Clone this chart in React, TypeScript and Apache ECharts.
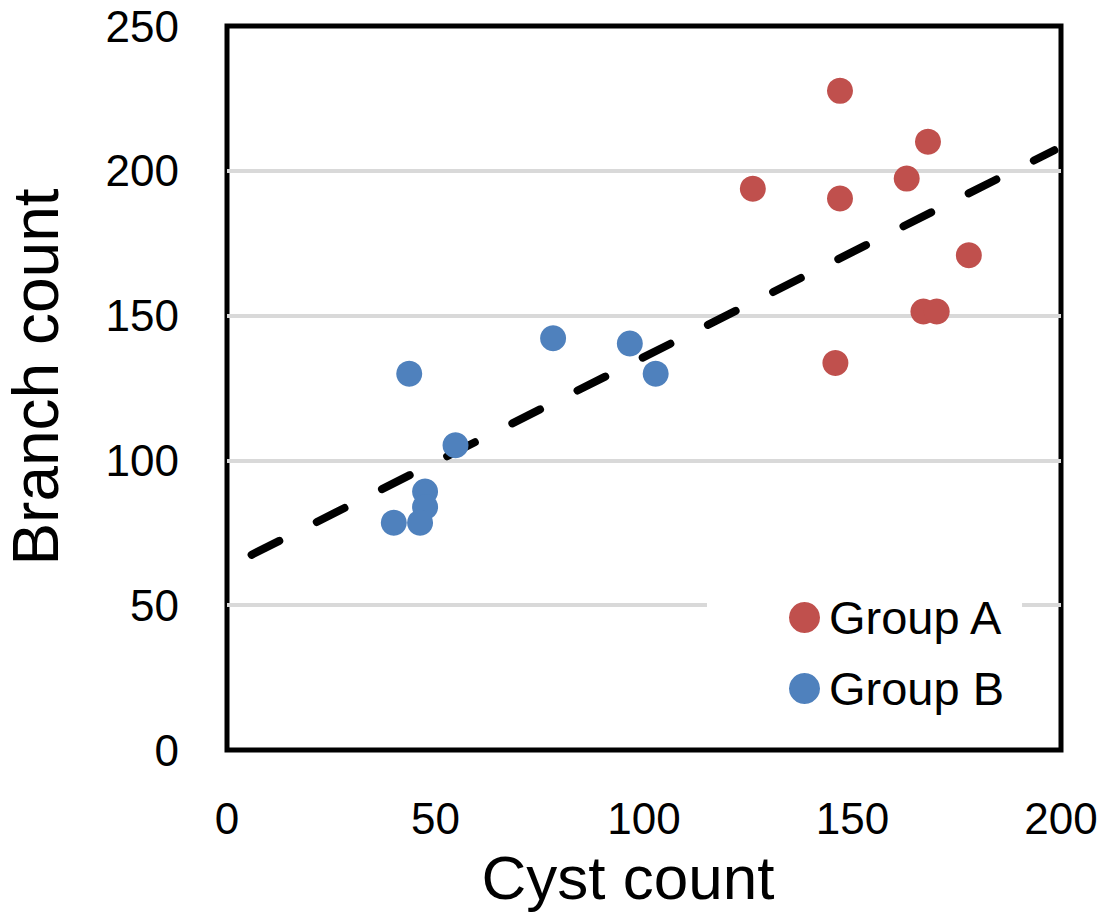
import React, { useEffect, useRef } from "react";
import * as echarts from "echarts";

const groupANames = "Group A";
const groupBNames = "Group B";

const groupAX = [147.0, 168.1, 126.1, 163.0, 147.0, 177.9, 167.0, 170.2, 145.9];
const groupAY = [227.6, 210.0, 193.8, 197.3, 190.4, 170.8, 151.4, 151.4, 133.6];

const groupBX = [43.7, 78.2, 96.6, 102.8, 54.8, 47.5, 47.5, 40.0, 46.3];
const groupBY = [129.9, 142.2, 140.4, 129.9, 105.2, 89.3, 83.9, 78.5, 78.5];

const trendX = [5.9, 198.4];
const trendY = [67.4, 207.1];

const xTicks = { min: 0, max: 200, interval: 50 };
const yTicks = { min: 0, max: 250, interval: 50 };

const FONT = "'Liberation Sans', Arial, sans-serif";

export default function App() {
  const ref = useRef<HTMLDivElement>(null);

  useEffect(() => {
    if (!ref.current) return;
    const chart = echarts.init(ref.current, undefined, { renderer: "svg" });
    const zip = (xs: number[], ys: number[]) => xs.map((x, i) => [x, ys[i]]);
    chart.setOption({
      animation: false,
      backgroundColor: "#ffffff",
      textStyle: { fontFamily: FONT },
      grid: {
        left: 227,
        top: 26,
        width: 834,
        height: 724,
        show: true,
        borderColor: "#000000",
        borderWidth: 5,
        backgroundColor: "transparent",
        containLabel: false,
        outerBoundsMode: "none",
      },
      xAxis: {
        type: "value",
        min: xTicks.min,
        max: xTicks.max,
        interval: xTicks.interval,
        name: "Cyst count",
        nameLocation: "middle",
        nameGap: 96,
        nameTextStyle: {
          fontSize: 62,
          color: "#000",
          fontFamily: FONT,
          padding: [0, 32, 0, 0],
        },
        axisLine: { show: false },
        axisTick: { show: false },
        splitLine: { show: false },
        axisLabel: { fontSize: 44, color: "#000", margin: 46, fontFamily: FONT },
      },
      yAxis: {
        type: "value",
        min: yTicks.min,
        max: yTicks.max,
        interval: yTicks.interval,
        name: "Branch count",
        nameLocation: "middle",
        nameGap: 159,
        nameRotate: 90,
        nameTextStyle: {
          fontSize: 64,
          color: "#000",
          fontFamily: FONT,
          padding: [0, 0, 0, 22],
        },
        axisLine: { show: false },
        axisTick: { show: false },
        splitLine: {
          show: true,
          showMinLine: false,
          showMaxLine: false,
          lineStyle: { color: "#d9d9d9", width: 4 },
        },
        axisLabel: { fontSize: 44, color: "#000", margin: 48, fontFamily: FONT },
      },
      legend: {
        orient: "vertical",
        left: 707,
        top: 588,
        data: [groupANames, groupBNames],
        backgroundColor: "#ffffff",
        padding: [6, 18, 10, 82],
        itemGap: 24,
        itemWidth: 31,
        itemHeight: 31,
        icon: "circle",
        textStyle: { fontSize: 47, color: "#000", fontFamily: FONT, padding: [0, 0, 0, 4] },
      },
      series: [
        {
          name: "Trend",
          type: "line",
          data: zip(trendX, trendY),
          symbol: "none",
          z: 1,
          lineStyle: { color: "#000", width: 8, type: [31, 42], cap: "round" },
        },
        {
          name: groupANames,
          type: "scatter",
          data: zip(groupAX, groupAY),
          symbolSize: 26,
          z: 3,
          itemStyle: { color: "#C0504D", opacity: 1 },
        },
        {
          name: groupBNames,
          type: "scatter",
          data: zip(groupBX, groupBY),
          symbolSize: 26,
          z: 3,
          itemStyle: { color: "#4F81BD", opacity: 1 },
        },
      ],
    });
    return () => chart.dispose();
  }, []);

  return (
    <div
      ref={ref}
      style={{ position: "fixed", left: 0, top: 0, width: 1103, height: 920 }}
    />
  );
}
